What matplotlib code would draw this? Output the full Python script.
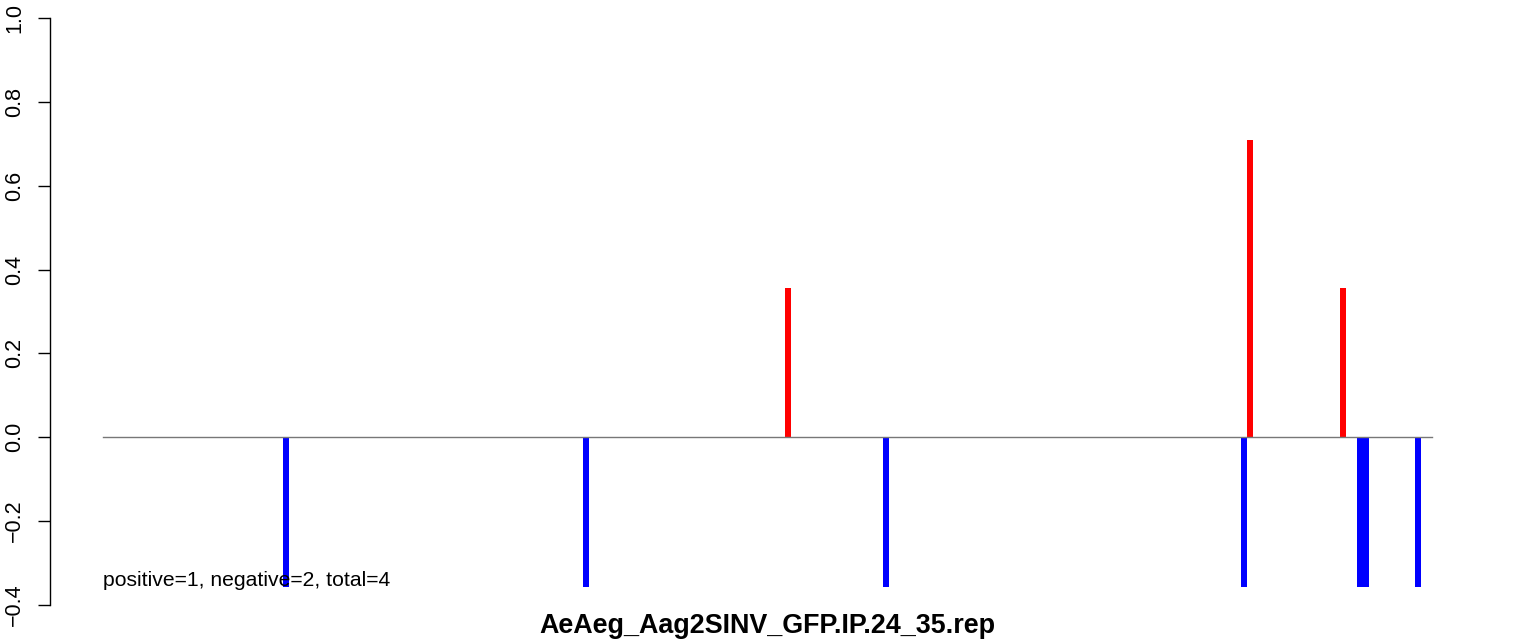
import matplotlib
matplotlib.use("Agg")
import matplotlib.pyplot as plt

plt.rcParams['font.family'] = ['Liberation Sans', 'DejaVu Sans']

# data
title = "AeAeg_Aag2SINV_GFP.IP.24_35.rep"
summary = "positive=1, negative=2, total=4"
seq_start, seq_end = 1, 222
pos_x = [114.9, 191.7, 207.3]
pos_y = [0.355, 0.71, 0.355]
neg_x = [31.4, 81.3, 131.2, 190.7, 210.0, 211.0, 219.7]
neg_y = [-0.357, -0.357, -0.357, -0.357, -0.357, -0.357, -0.357]
yticks = [-0.4, -0.2, 0.0, 0.2, 0.4, 0.6, 0.8, 1.0]
ytick_labels = ["\u22120.4", "\u22120.2", "0.0", "0.2", "0.4", "0.6", "0.8", "1.0"]

W, H = 1533, 641
fig = plt.figure(figsize=(W / 100, H / 100), dpi=100)
left_px, right_px, top_px, bottom_px = 50, 1485, 18, 605
ax = fig.add_axes([left_px / W, 1 - bottom_px / H, (right_px - left_px) / W, (bottom_px - top_px) / H])

ax.bar(pos_x, pos_y, width=1.0, color='#ff0000', linewidth=0)
ax.bar(neg_x, neg_y, width=1.0, color='#0000ff', linewidth=0)
ax.plot([seq_start, seq_end], [0, 0], color='#777777', lw=1.0, zorder=3)

# x limits with R-like 4% expansion
rng = seq_end - seq_start
ax.set_xlim(seq_start - 0.04 * rng, seq_end + 0.04 * rng)
ax.set_ylim(-0.4, 1.0)

for s in ['top', 'right', 'bottom']:
    ax.spines[s].set_visible(False)
ax.spines['left'].set_linewidth(1.0)
ax.spines['left'].set_color('black')
ax.set_xticks([])
ax.set_yticks(yticks)
ax.set_yticklabels(ytick_labels, rotation=90, va='center', fontsize=15.5)
ax.tick_params(axis='y', direction='out', length=9, width=1.0, pad=9)

ax.text(seq_start, -0.342, summary, fontsize=15.2, ha='left', va='center')

fig.text((left_px + right_px) / 2 / W, 1 - 626 / H, title, fontsize=19.4, fontweight='bold',
         ha='center', va='center')

fig.savefig("out.png", dpi=100)
